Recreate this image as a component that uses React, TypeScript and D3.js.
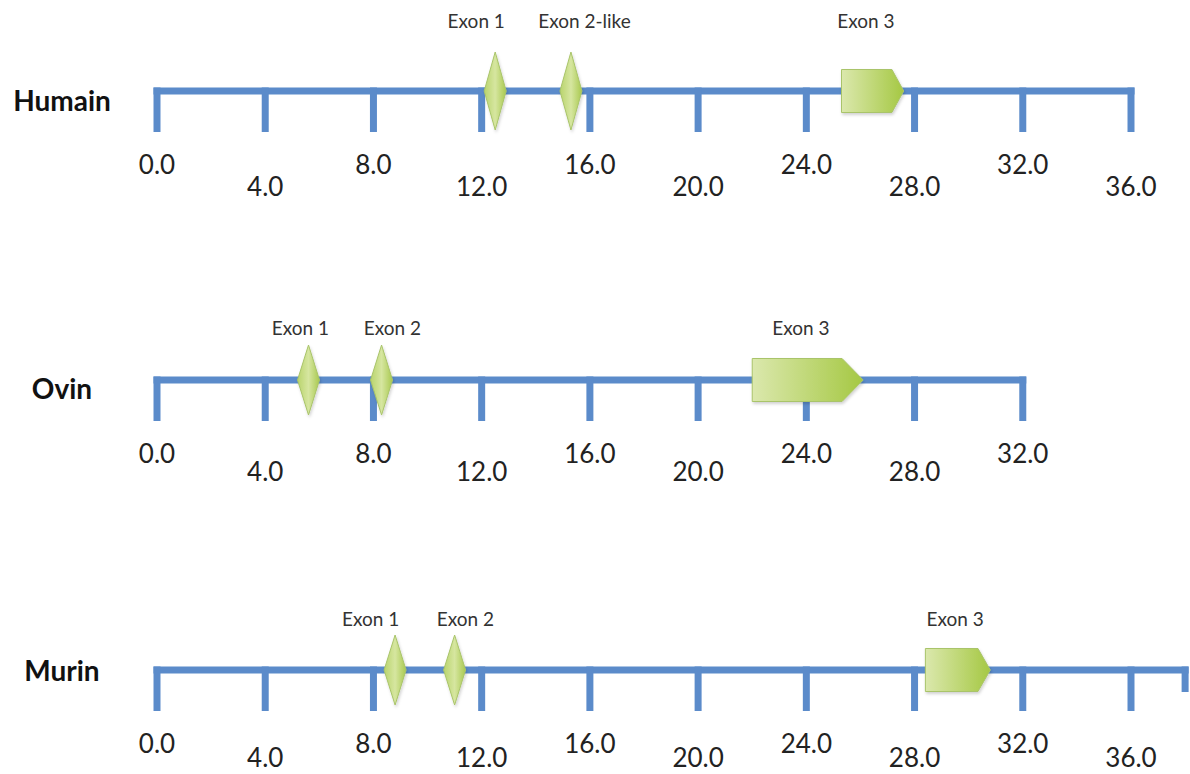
import * as d3 from 'd3';
import React from 'react';

// gene maps, positions in kb
const species = ['Humain', 'Ovin', 'Murin'];
const geneLength = [36, 32, 38];
const tickValues = [0, 4, 8, 12, 16, 20, 24, 28, 32, 36];

const exon1Pos = [12.5, 5.6, 8.8];
const exon2Pos = [15.3, 8.3, 11.0];
const exon3Start = [25.3, 22.0, 28.4];
const exon3End = [27.6, 26.1, 30.8];

const exon1Name = ['Exon 1', 'Exon 1', 'Exon 1'];
const exon2Name = ['Exon 2-like', 'Exon 2', 'Exon 2'];
const exon3Name = ['Exon 3', 'Exon 3', 'Exon 3'];
// where each label is centred (kb)
const exon1LabelAt = [11.8, 5.3, 7.9];
const exon2LabelAt = [15.8, 8.7, 11.4];
const exon3LabelAt = [26.2, 23.8, 29.5];

const WIDTH = 1190;
const HEIGHT = 774;
const AXIS_Y = [91, 380, 670];
const NAME_DY = [9, 8, 0];
const EXON_LABEL_DY = [-71, -53, -52];
const TICK_LABEL_DY = [[73, 95], [73, 91], [73, 87]];
const DIAMOND_H = [78, 70, 70];
const DIAMOND_W = 22;
const BOX_H = 43;
const TICK_LEN = 41;
const END_TICK_LEN = 22;
const BLUE = '#5b8bca';
const FONT = 'Lato, "Open Sans", sans-serif';

const x = d3.scaleLinear().domain([0, 36]).range([157, 1131]);
const fmt = d3.format('.1f');

const diamond = (cx: number, cy: number, h: number) =>
  `M${cx},${cy - h / 2}L${cx + DIAMOND_W / 2},${cy}L${cx},${cy + h / 2}L${cx - DIAMOND_W / 2},${cy}Z`;

const arrowBox = (x0: number, x1: number, cy: number) => {
  const head = (x1 - x0) * 0.19;
  const t = cy - BOX_H / 2;
  const b = cy + BOX_H / 2;
  return `M${x0},${t}L${x1 - head},${t}L${x1},${cy}L${x1 - head},${b}L${x0},${b}Z`;
};

const Row: React.FC<{ i: number }> = ({ i }) => {
  const y = AXIS_Y[i];
  const len = geneLength[i];
  const ticks = tickValues.filter(v => v <= len);
  const hasEndTick = !ticks.includes(len);
  const labelY = y + EXON_LABEL_DY[i];
  return (
    <g>
      <text x={62} y={y + NAME_DY[i]} textAnchor="middle" dominantBaseline="central"
        fontFamily={FONT} fontWeight="bold" fontSize={28} fill="#111">
        {species[i]}
      </text>
      <line x1={x(0) - 3.5} x2={x(len) + 3.5} y1={y} y2={y} stroke={BLUE} strokeWidth={7} />
      {ticks.map(v => (
        <line key={v} x1={x(v)} x2={x(v)} y1={y - 3.5} y2={y + TICK_LEN} stroke={BLUE} strokeWidth={7} />
      ))}
      {hasEndTick && (
        <line x1={x(len)} x2={x(len)} y1={y - 3.5} y2={y + END_TICK_LEN} stroke={BLUE} strokeWidth={7} />
      )}
      {ticks.map((v, k) => (
        <text key={`l${v}`} x={x(v)} y={y + TICK_LABEL_DY[i][k % 2]} textAnchor="middle"
          dominantBaseline="central" fontFamily={FONT} fontSize={26} fill="#222">
          {fmt(v)}
        </text>
      ))}
      <g filter="url(#shadow)" stroke="#a9c46a" strokeWidth={1}>
        <path d={diamond(x(exon1Pos[i]), y, DIAMOND_H[i])} fill="url(#diamondGrad)" />
        <path d={diamond(x(exon2Pos[i]), y, DIAMOND_H[i])} fill="url(#diamondGrad)" />
        <path d={arrowBox(x(exon3Start[i]), x(exon3End[i]), y)} fill="url(#boxGrad)" />
      </g>
      <g fontFamily={FONT} fontSize={19} fill="#333" textAnchor="middle" dominantBaseline="central">
        <text x={x(exon1LabelAt[i])} y={labelY}>{exon1Name[i]}</text>
        <text x={x(exon2LabelAt[i])} y={labelY}>{exon2Name[i]}</text>
        <text x={x(exon3LabelAt[i])} y={labelY}>{exon3Name[i]}</text>
      </g>
    </g>
  );
};

export default function App() {
  return (
    <svg width={WIDTH} height={HEIGHT} viewBox={`0 0 ${WIDTH} ${HEIGHT}`}
      style={{ position: 'absolute', left: 0, top: 0, background: '#fff' }}>
      <defs>
        <linearGradient id="boxGrad" x1="0" x2="1" y1="0" y2="0">
          <stop offset="0%" stopColor="#dbe8ad" />
          <stop offset="100%" stopColor="#a5c843" />
        </linearGradient>
        <linearGradient id="diamondGrad" x1="0" x2="1" y1="0" y2="0">
          <stop offset="0%" stopColor="#b9d46c" />
          <stop offset="50%" stopColor="#d6e6a0" />
          <stop offset="100%" stopColor="#a9c94f" />
        </linearGradient>
        <filter id="shadow" x="-20%" y="-20%" width="140%" height="140%">
          <feDropShadow dx="1" dy="2" stdDeviation="1.5" floodColor="#000" floodOpacity="0.18" />
        </filter>
      </defs>
      {species.map((_, i) => <Row key={i} i={i} />)}
    </svg>
  );
}
